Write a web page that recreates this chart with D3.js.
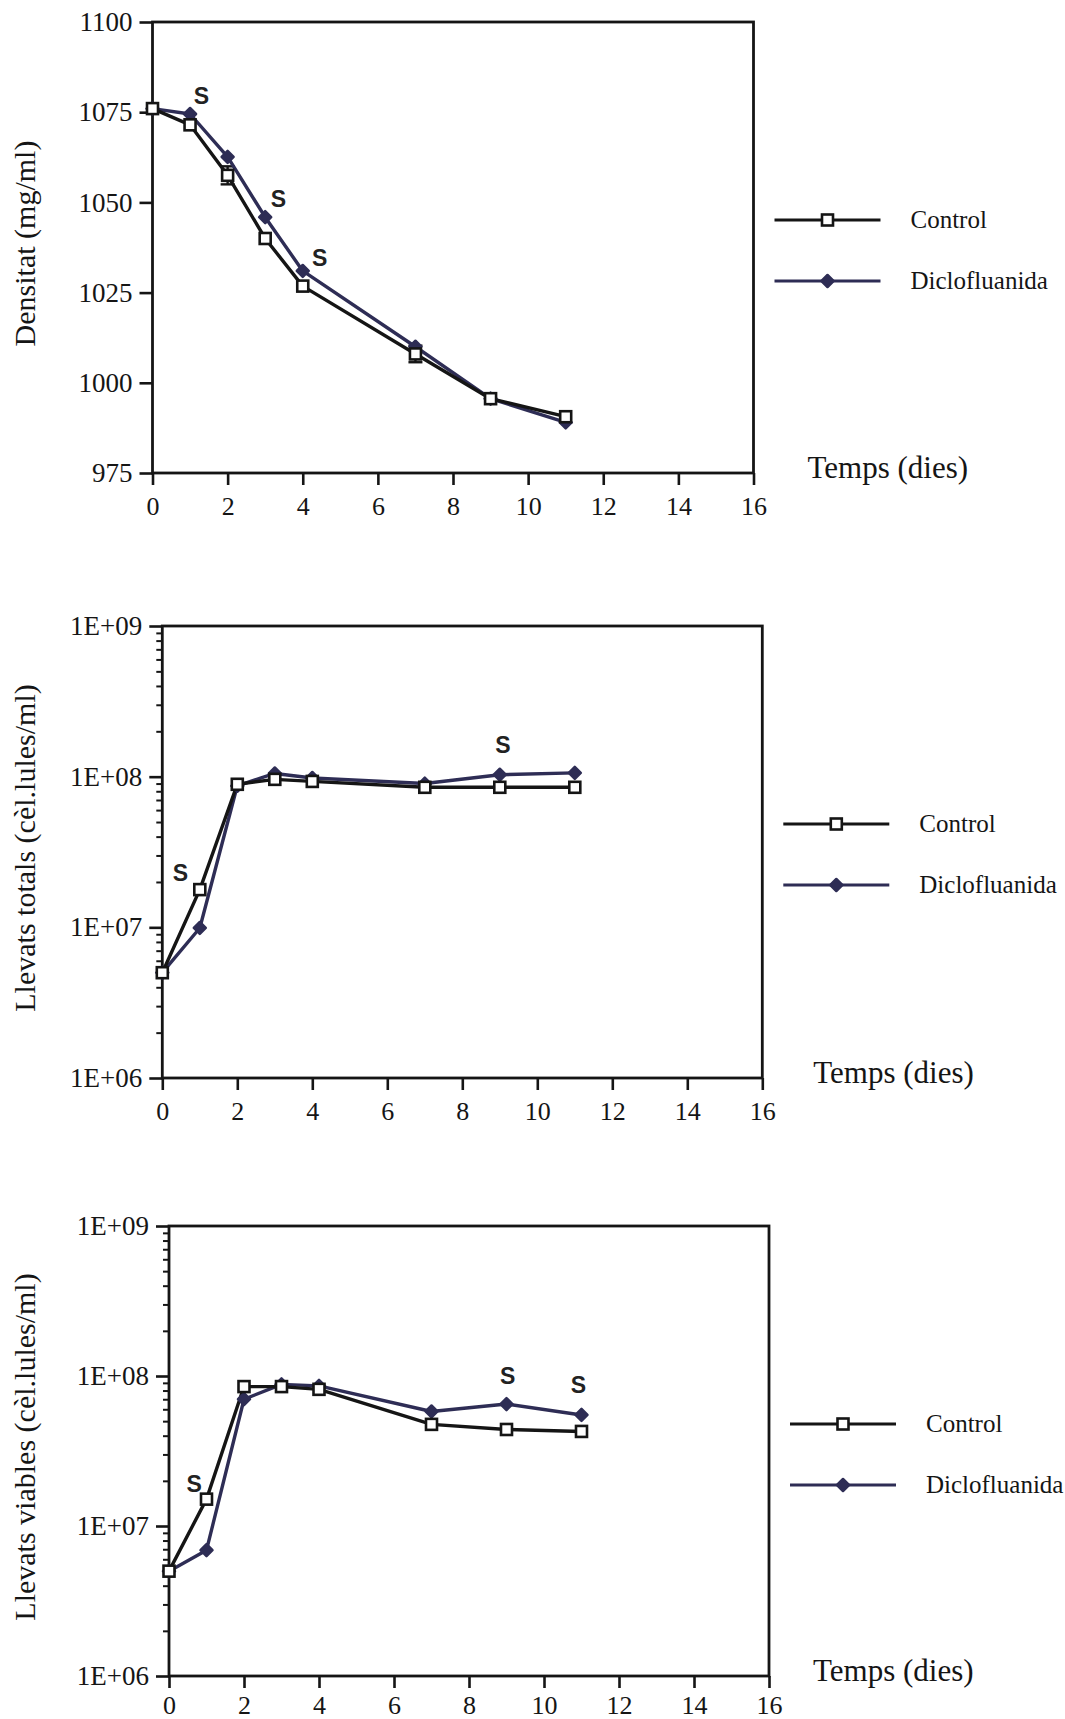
<!DOCTYPE html>
<html>
<head>
<meta charset="utf-8">
<script src="https://cdn.jsdelivr.net/npm/d3@7"></script>
<style>
  body { margin: 0; background: #fff; }
  svg { display: block; }
</style>
</head>
<body>
<div id="root"></div>
<script>
// data
const days = [0, 1, 2, 3, 4, 7, 9, 11];
const seriesNames = ["Control", "Diclofluanida"];

const densControl = [1076, 1071.5, 1057.5, 1040, 1026.8, 1008, 995.6, 990.6];
const densDiclo = [1076, 1074.5, 1062.6, 1045.9, 1031, 1010, 995.6, 989];
const densControlErr = [0, 0, 2.5, 0, 0, 2.3, 0, 0];
const densTicks = [975, 1000, 1025, 1050, 1075, 1100];
const densSig = [[1.3, 1079.6], [3.35, 1051], [4.45, 1034.8]];

const totControl = [5.0e6, 1.78e7, 8.9e7, 9.6e7, 9.3e7, 8.5e7, 8.5e7, 8.5e7];
const totDiclo = [5.0e6, 9.9e6, 8.7e7, 1.05e8, 9.8e7, 9.0e7, 1.03e8, 1.06e8];
const totSig = [[0.48, 2.3e7], [9.08, 1.62e8]];

const viaControl = [5.0e6, 1.51e7, 8.5e7, 8.5e7, 8.15e7, 4.76e7, 4.4e7, 4.27e7];
const viaDiclo = [5.0e6, 6.9e6, 7.0e7, 8.8e7, 8.6e7, 5.8e7, 6.5e7, 5.5e7];
const viaSig = [[0.67, 1.9e7], [9.03, 1.0e8], [10.92, 8.8e7]];

const logTicks = [1e6, 1e7, 1e8, 1e9];
const xTicks = [0, 2, 4, 6, 8, 10, 12, 14, 16];

const W = 1065, H = 1719;
const ink = "#151515";
const navy = "#2e2d55";
const serif = "'Liberation Serif', 'Times New Roman', serif";
const sans = "'Liberation Sans', Arial, sans-serif";

const svg = d3.select("#root").append("svg")
  .attr("width", W)
  .attr("height", H)
  .style("background", "#fff");

const logMinors = [];
for (let e = 6; e < 9; e++) {
  for (let k = 2; k <= 9; k++) logMinors.push(k * Math.pow(10, e));
}

const fmtExp = d => "1E+" + String(Math.round(Math.log10(d))).padStart(2, "0");

const panels = [
  { left: 152.5, right: 753.5, top: 22, bottom: 473, log: false,
    yDomain: [975, 1100], yTicks: densTicks, fmt: d => d,
    control: densControl, diclo: densDiclo, err: densControlErr, sig: densSig,
    ylabel: "Densitat (mg/ml)", tempsDx: 54, xPad: 12 },
  { left: 162.3, right: 762.3, top: 626, bottom: 1078, log: true,
    yDomain: [1e6, 1e9], yTicks: logTicks, fmt: fmtExp,
    control: totControl, diclo: totDiclo, err: null, sig: totSig,
    ylabel: "Llevats totals (cèl.lules/ml)", tempsDx: 51, xPad: 12 },
  { left: 169, right: 769, top: 1226, bottom: 1676, log: true,
    yDomain: [1e6, 1e9], yTicks: logTicks, fmt: fmtExp,
    control: viaControl, diclo: viaDiclo, err: null, sig: viaSig,
    ylabel: "Llevats viables (cèl.lules/ml)", tempsDx: 44, xPad: 8 }
];

const drawPanel = (p) => {
  const g = svg.append("g");

  const x = d3.scaleLinear().domain([0, 16]).range([p.left, p.right]);
  const y = (p.log ? d3.scaleLog() : d3.scaleLinear())
    .domain(p.yDomain).range([p.bottom, p.top]);

  // frame
  g.append("rect")
    .attr("x", p.left).attr("y", p.top)
    .attr("width", p.right - p.left).attr("height", p.bottom - p.top)
    .attr("fill", "none").attr("stroke", ink).attr("stroke-width", 2.8);

  // x axis
  const xa = g.append("g")
    .attr("transform", "translate(0," + p.bottom + ")")
    .call(d3.axisBottom(x).tickValues(xTicks).tickSize(12).tickPadding(p.xPad).tickFormat(d => d));
  xa.select(".domain").remove();
  xa.selectAll("line").attr("stroke", ink).attr("stroke-width", 2.6);
  xa.selectAll("text")
    .attr("font-family", serif).attr("font-size", 26).attr("fill", ink);

  // y axis
  const ya = g.append("g")
    .attr("transform", "translate(" + p.left + ",0)")
    .call(d3.axisLeft(y).tickValues(p.yTicks).tickSize(13).tickPadding(7).tickFormat(p.fmt));
  ya.select(".domain").remove();
  ya.selectAll("line").attr("stroke", ink).attr("stroke-width", 2.6);
  ya.selectAll("text")
    .attr("font-family", serif).attr("font-size", 27).attr("fill", ink);

  if (p.log) {
    const ym = g.append("g")
      .attr("transform", "translate(" + p.left + ",0)")
      .call(d3.axisLeft(y).tickValues(logMinors).tickSize(6).tickFormat(""));
    ym.select(".domain").remove();
    ym.selectAll("line").attr("stroke", ink).attr("stroke-width", 2);
  }

  // y label
  g.append("text")
    .attr("transform", "translate(35," + ((p.top + p.bottom) / 2 - 4) + ") rotate(-90)")
    .attr("text-anchor", "middle")
    .attr("font-family", serif).attr("font-size", 30).attr("fill", ink)
    .text(p.ylabel);

  // x label
  g.append("text")
    .attr("x", p.right + p.tempsDx).attr("y", p.bottom + 5)
    .attr("font-family", serif).attr("font-size", 31).attr("fill", ink)
    .text("Temps (dies)");

  const line = d3.line()
    .x((d, i) => x(days[i]))
    .y(d => y(d));

  // error bars (control)
  if (p.err) {
    p.err.forEach((e, i) => {
      if (!e) return;
      const cx = x(days[i]);
      const y0 = y(p.control[i] - e), y1 = y(p.control[i] + e);
      g.append("line").attr("x1", cx).attr("x2", cx).attr("y1", y0).attr("y2", y1)
        .attr("stroke", ink).attr("stroke-width", 2.4);
      [y0, y1].forEach(yy => {
        g.append("line").attr("x1", cx - 7).attr("x2", cx + 7).attr("y1", yy).attr("y2", yy)
          .attr("stroke", ink).attr("stroke-width", 2.4);
      });
    });
  }

  g.append("path").datum(p.diclo)
    .attr("d", line).attr("fill", "none")
    .attr("stroke", navy).attr("stroke-width", 3.4).attr("stroke-linejoin", "round");
  g.append("path").datum(p.control)
    .attr("d", line).attr("fill", "none")
    .attr("stroke", ink).attr("stroke-width", 3.4).attr("stroke-linejoin", "round");

  // rotated square marker, a bit rounded
  const diamond = d3.symbol().type(d3.symbolSquare).size(72);

  g.selectAll(".dic").data(p.diclo).enter().append("path")
    .attr("class", "dic")
    .attr("d", diamond)
    .attr("transform", (d, i) => "translate(" + x(days[i]) + "," + y(d) + ") rotate(45)")
    .attr("fill", navy).attr("stroke", navy).attr("stroke-width", 2.5)
    .attr("stroke-linejoin", "round");

  g.selectAll(".ctl").data(p.control).enter().append("rect")
    .attr("class", "ctl")
    .attr("x", (d, i) => x(days[i]) - 5.5)
    .attr("y", d => y(d) - 5.5)
    .attr("width", 11).attr("height", 11)
    .attr("fill", "#fff").attr("stroke", ink).attr("stroke-width", 2.6);

  // significance marks
  g.selectAll(".sig").data(p.sig).enter().append("text")
    .attr("class", "sig")
    .attr("x", d => x(d[0])).attr("y", d => y(d[1]))
    .attr("text-anchor", "middle").attr("dy", "0.36em")
    .attr("font-family", sans).attr("font-weight", "bold").attr("font-size", 23)
    .attr("fill", "#222")
    .text("S");

  // legend
  const lg = g.append("g").attr("transform", "translate(" + p.right + "," + (p.top + 198) + ")");
  seriesNames.forEach((name, i) => {
    const ly = i * 61;
    const col = i === 0 ? ink : navy;
    lg.append("line").attr("x1", 21).attr("x2", 127).attr("y1", ly).attr("y2", ly)
      .attr("stroke", col).attr("stroke-width", 3);
    if (i === 0) {
      lg.append("rect").attr("x", 74 - 5.5).attr("y", ly - 5.5).attr("width", 11).attr("height", 11)
        .attr("fill", "#fff").attr("stroke", ink).attr("stroke-width", 2.6);
    } else {
      lg.append("path").attr("d", diamond).attr("transform", "translate(74," + ly + ") rotate(45)")
        .attr("fill", navy).attr("stroke", navy).attr("stroke-width", 2.5)
        .attr("stroke-linejoin", "round");
    }
    lg.append("text").attr("x", 157).attr("y", ly).attr("dy", "0.32em")
      .attr("font-family", serif).attr("font-size", 25).attr("fill", ink)
      .text(name);
  });
};

panels.forEach(drawPanel);
</script>
</body>
</html>
